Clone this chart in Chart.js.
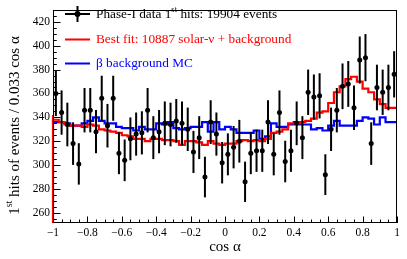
<!DOCTYPE html>
<html>
<head>
<meta charset="utf-8">
<script src="https://cdn.jsdelivr.net/npm/chart.js@4.4.0/dist/chart.umd.min.js"></script>
<style>
  html, body { margin: 0; padding: 0; background: #fff; }
  #wrap { width: 407px; height: 259px; }
</style>
</head>
<body>
<div id="wrap"><canvas id="c"></canvas></div>
<script>
// cos(alpha) binning: 60 bins from -1 to 1
const nBins = 60;
const xRange = [-1, 1];
const yRange = [251.5, 430];

// Phase-I data, 1st hits per bin
const dataCounts = [
  360, 344, 334, 318, 301, 346, 346, 328, 356, 333,
  356, 310, 304, 322, 326, 327, 346, 323, 328, 335,
  334, 337, 335, 330, 311, 323, 290, 336, 326, 302,
  309, 315, 320, 286, 310, 312, 312, 336, 309, 344,
  303, 312, 335, 323, 361, 357, 358, 292, 330, 346,
  366, 368, 348, 388, 390, 318, 365, 361, 365, 376
];

// best fit: solar-nu + background
const bestFit = [
  342, 338, 336, 334, 333, 333, 332, 334, 333, 330,
  329, 328, 327, 325, 324, 322, 322, 320, 322, 322,
  321, 321, 320, 317, 320, 320, 319, 317, 320, 318,
  317, 318, 318, 320, 321, 320, 321, 320, 322, 327,
  328, 330, 335, 335, 336, 337, 339, 344, 345, 352,
  361, 366, 372, 374, 370, 364, 361, 355, 351, 348
];

// beta background MC
const betaBkg = [
  338, 336, 336, 335, 333, 333, 335, 337, 340, 337,
  335, 335, 332, 331, 331, 329, 332, 330, 330, 335,
  334, 336, 331, 330, 331, 332, 332, 336, 328, 336,
  330, 332, 330, 327, 327, 327, 329, 322, 324, 335,
  332, 332, 334, 336, 334, 334, 330, 331, 329, 333,
  337, 333, 333, 333, 337, 340, 339, 334, 340, 336
];

const xTicks = [-1, -0.8, -0.6, -0.4, -0.2, 0, 0.2, 0.4, 0.6, 0.8, 1];
const yTicks = [260, 280, 300, 320, 340, 360, 380, 400, 420];

const serif = '"Liberation Serif", "DejaVu Serif", serif';
const binW = (xRange[1] - xRange[0]) / nBins;

function binCenter(i) { return xRange[0] + (i + 0.5) * binW; }

// step outline through bin edges
function histPoints(values, fromBottom) {
  const pts = [];
  if (fromBottom) pts.push({ x: xRange[0], y: yRange[0] });
  values.forEach((v, i) => pts.push({ x: xRange[0] + i * binW, y: v }));
  pts.push({ x: xRange[1], y: values[values.length - 1] });
  return pts;
}

function fmtTick(v) {
  const r = Math.round(v * 10) / 10;
  if (r === 0) return '0';
  return (r < 0 ? '\u2212' : '') + String(Math.abs(r));
}

function textWithSup(ctx, x, y, parts, size) {
  // parts: [text, isSup]
  let cx = x;
  parts.forEach(([t, sup]) => {
    ctx.font = (sup ? size * 0.65 : size) + 'px ' + serif;
    ctx.fillText(t, cx, sup ? y - size * 0.35 : y);
    cx += ctx.measureText(t).width;
  });
  return cx - x;
}

function partsWidth(ctx, parts, size) {
  let w = 0;
  parts.forEach(([t, sup]) => {
    ctx.font = (sup ? size * 0.65 : size) + 'px ' + serif;
    w += ctx.measureText(t).width;
  });
  return w;
}

const rootStyle = {
  id: 'rootStyle',
  beforeDatasetDraw(chart, args) {
    if (args.index !== 0) return;
    const { ctx, scales: { x, y } } = chart;
    ctx.save();
    ctx.strokeStyle = '#000';
    ctx.lineWidth = 2;
    dataCounts.forEach((n, i) => {
      const e = Math.sqrt(n);
      const px = x.getPixelForValue(binCenter(i));
      ctx.beginPath();
      ctx.moveTo(px, y.getPixelForValue(n - e));
      ctx.lineTo(px, y.getPixelForValue(n + e));
      ctx.stroke();
    });
    ctx.restore();
  },
  afterDraw(chart) {
    const { ctx, chartArea: a, scales: { x, y } } = chart;
    ctx.save();
    // frame
    ctx.strokeStyle = '#000';
    ctx.lineWidth = 1;
    ctx.strokeRect(Math.round(a.left) + 0.5, Math.round(a.top) + 0.5,
      Math.round(a.right - a.left) - 1, Math.round(a.bottom - a.top) - 1);

    // ticks inside the frame
    ctx.beginPath();
    for (let k = 0; k <= 40; k++) {
      const v = xRange[0] + k * 0.05;
      const px = Math.round(x.getPixelForValue(v)) + 0.5;
      const len = k % 4 === 0 ? 6.5 : 3.5;
      ctx.moveTo(px, a.bottom);
      ctx.lineTo(px, a.bottom - len);
    }
    for (let v = 255; v < yRange[1]; v += 5) {
      const py = Math.round(y.getPixelForValue(v)) + 0.5;
      const len = v % 20 === 0 ? 7.5 : 3.8;
      ctx.moveTo(a.left, py);
      ctx.lineTo(a.left + len, py);
    }
    ctx.stroke();

    ctx.fillStyle = '#000';
    ctx.textBaseline = 'middle';
    // x title
    ctx.textAlign = 'center';
    ctx.font = '15px ' + serif;
    ctx.fillText('cos \u03b1', x.getPixelForValue(0), 247);

    // y title (rotated)
    const yParts = [['1', false], ['st', true], [' hits of events / 0.033 cos \u03b1', false]];
    ctx.save();
    ctx.translate(15, (a.top + a.bottom) / 2 + 9);
    ctx.rotate(-Math.PI / 2);
    ctx.textAlign = 'left';
    const yw = partsWidth(ctx, yParts, 15);
    textWithSup(ctx, -yw / 2, 0, yParts, 15);
    ctx.restore();

    // legend
    const rows = [
      { y: 14, color: '#000', parts: [['Phase-I data 1', false], ['st', true], [' hits: 19904 events', false]], data: true },
      { y: 39.5, color: '#ff0000', parts: [['Best fit: 10887 solar-\u03bd + background', false]] },
      { y: 63.5, color: '#0000ff', parts: [['\u03b2 background MC', false]] }
    ];
    const sx0 = 65, sx1 = 90, tx = 96;
    rows.forEach(r => {
      ctx.strokeStyle = r.color;
      ctx.fillStyle = r.color;
      ctx.lineWidth = 2;
      ctx.beginPath();
      ctx.moveTo(sx0, r.y);
      ctx.lineTo(sx1, r.y);
      if (r.data) {
        const cx = (sx0 + sx1) / 2;
        ctx.moveTo(cx, r.y - 8);
        ctx.lineTo(cx, r.y + 8);
      }
      ctx.stroke();
      if (r.data) {
        ctx.beginPath();
        ctx.arc((sx0 + sx1) / 2, r.y, 3, 0, Math.PI * 2);
        ctx.fill();
      }
      ctx.textAlign = 'left';
      textWithSup(ctx, tx, r.y + 0.5, r.parts, 13.3);
    });
    ctx.restore();
  }
};

new Chart(document.getElementById('c'), {
  type: 'scatter',
  data: {
    datasets: [
      {
        label: 'Phase-I data',
        data: dataCounts.map((n, i) => ({ x: binCenter(i), y: n })),
        showLine: false,
        pointRadius: 2.5,
        pointHoverRadius: 2.5,
        pointBackgroundColor: '#000',
        pointBorderWidth: 0
      },
      {
        label: 'Best fit',
        type: 'line',
        data: histPoints(bestFit, true),
        stepped: 'after',
        borderColor: '#ff0000',
        borderWidth: 2.2,
        pointRadius: 0,
        fill: false,
        clip: 4
      },
      {
        label: 'beta background MC',
        type: 'line',
        data: histPoints(betaBkg, false),
        stepped: 'after',
        borderColor: '#0000ff',
        borderWidth: 2.2,
        pointRadius: 0,
        fill: false,
        clip: 4
      }
    ]
  },
  options: {
    responsive: true,
    maintainAspectRatio: false,
    animation: false,
    events: [],
    layout: { padding: { top: 4, right: 10, left: 0, bottom: 0 } },
    plugins: { legend: { display: false }, tooltip: { enabled: false } },
    scales: {
      x: {
        type: 'linear',
        min: xRange[0],
        max: xRange[1],
        afterBuildTicks: s => { s.ticks = xTicks.map(v => ({ value: v })); },
        afterFit: s => { s.height = 36; },
        grid: { display: false, drawTicks: false },
        border: { display: false },
        ticks: {
          autoSkip: false, maxRotation: 0, padding: 3, color: '#000',
          font: { family: serif, size: 11.5 },
          callback: v => fmtTick(v)
        }
      },
      y: {
        type: 'linear',
        min: yRange[0],
        max: yRange[1],
        afterBuildTicks: s => { s.ticks = yTicks.map(v => ({ value: v })); },
        afterFit: s => { s.width = 53; },
        grid: { display: false, drawTicks: false },
        border: { display: false },
        ticks: {
          autoSkip: false, padding: 3, color: '#000',
          font: { family: serif, size: 11.5 },
          callback: v => String(v)
        }
      }
    }
  },
  plugins: [rootStyle]
});
</script>
</body>
</html>
